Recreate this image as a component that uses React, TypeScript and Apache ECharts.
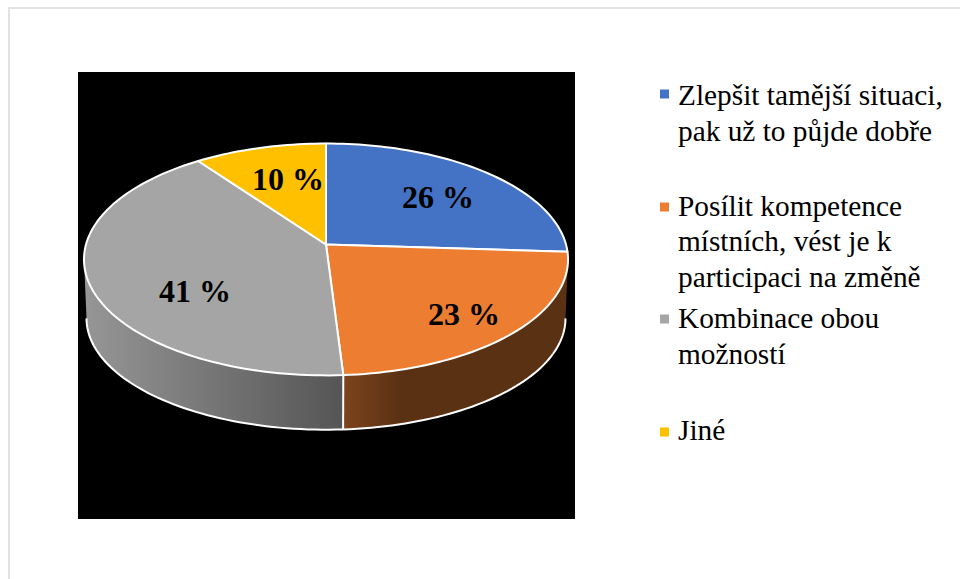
import React, { useEffect, useRef } from "react";
import * as echarts from "echarts";

const categories = [
  "Zlepšit tamější situaci,\npak už to půjde dobře",
  "Posílit kompetence\nmístních, vést je k\nparticipaci na změně",
  "Kombinace obou\nmožností",
  "Jiné",
];
const values = [26, 23, 41, 10];
const labels = ["26 %", "23 %", "41 %", "10 %"];
const colors = ["#4472C4", "#ED7D31", "#A5A5A5", "#FFC000"];
const wallColors: [string, string][] = [
  ["#2a4a80", "#223c68"],
  ["#7d441c", "#5b3114"],
  ["#969696", "#555555"],
  ["#a67d00", "#806000"],
];

// Layout of the tilted disc (perspective projection of a circle)
const CX = 326;
const P = 0.129;
const TOP = { cy: 244.5, a: 240, b: 114 };
const BOTTOM = { cy: 304, a: 237.5, b: 109.5 };
const LABEL_POS = [
  [438, 197],
  [464, 314],
  [195, 291],
  [288, 179],
];
const LEGEND_X = 678;
const LEGEND_MARK_X = 660;
const LEGEND_MARK_Y = [94, 207, 319, 432];
const LEGEND_TEXT_Y = [95, 205.5, 318, 430];
const LINE_H = 35.6;
const FONT = '"Liberation Serif", "Times New Roman", serif';

function project(deg: number, f: { cy: number; a: number; b: number }) {
  const t = (deg * Math.PI) / 180;
  const s = Math.sin(t);
  const c = Math.cos(t);
  const d = 1 + P * c;
  return [CX + (f.a * s) / d, f.cy - (f.b * c) / d];
}

function arc(from: number, to: number, f: typeof TOP) {
  const pts: number[][] = [];
  const n = Math.max(2, Math.ceil(Math.abs(to - from) / 1.5));
  for (let i = 0; i <= n; i++) pts.push(project(from + ((to - from) * i) / n, f));
  return pts;
}

const total = values.reduce((a, b) => a + b, 0);
const SIL = (Math.acos(-P) * 180) / Math.PI; // silhouette angle

function renderSlice(params: any, api: any) {
  const i = params.dataIndex;
  const before = values.slice(0, i).reduce((a, b) => a + b, 0);
  const start = (before / total) * 360;
  const end = ((before + api.value(0)) / total) * 360;
  const children: any[] = [];

  const wFrom = Math.max(start, SIL);
  const wTo = Math.min(end, 360 - SIL);
  if (wTo > wFrom) {
    const topArc = arc(wFrom, wTo, TOP);
    const lowArc = arc(wFrom, wTo, BOTTOM);
    children.push({
      type: "polygon",
      z2: 1,
      shape: { points: [...topArc, ...lowArc.slice().reverse()] },
      style: {
        fill: new echarts.graphic.LinearGradient(0, 0, 1, 0, [
          { offset: 0, color: wallColors[i][0] },
          { offset: i === 1 ? 0.25 : 1, color: wallColors[i][1] },
          { offset: 1, color: wallColors[i][1] },
        ]),
      },
    });
    children.push({
      type: "polyline",
      z2: 2,
      shape: { points: lowArc },
      style: { fill: "none", stroke: "#ffffff", lineWidth: 2 },
    });
    if (wFrom === start) {
      children.push({
        type: "polyline",
        z2: 2,
        shape: { points: [topArc[0], lowArc[0]] },
        style: { fill: "none", stroke: "#ffffff", lineWidth: 2 },
      });
    }
  }

  children.push({
    type: "polygon",
    z2: 5,
    shape: { points: [project(0, { ...TOP, a: 0, b: 0 }), ...arc(start, end, TOP)] },
    style: { fill: colors[i], stroke: "#ffffff", lineWidth: 2, lineJoin: "round" },
  });
  children.push({
    type: "text",
    z2: 10,
    style: {
      text: labels[i],
      x: LABEL_POS[i][0],
      y: LABEL_POS[i][1],
      fill: "#000000",
      font: `bold 32px ${FONT}`,
      align: "center",
      verticalAlign: "middle",
    },
  });
  return { type: "group", children };
}

export default function App() {
  const ref = useRef<HTMLDivElement>(null);
  useEffect(() => {
    const chart = echarts.init(ref.current!, undefined, { renderer: "svg" });
    const legendEls: any[] = [];
    categories.forEach((name, i) => {
      legendEls.push({
        type: "rect",
        shape: { x: LEGEND_MARK_X, y: LEGEND_MARK_Y[i] - 4.5, width: 9, height: 9 },
        style: { fill: colors[i] },
      });
      name.split("\n").forEach((line, k) => {
        legendEls.push({
          type: "text",
          style: {
            text: line,
            x: LEGEND_X,
            y: LEGEND_TEXT_Y[i] + k * LINE_H,
            fill: "#000000",
            font: `29.33px ${FONT}`,
            align: "left",
            verticalAlign: "middle",
          },
        });
      });
    });
    chart.setOption({
      animation: false,
      backgroundColor: "#ffffff",
      graphic: [
        { type: "rect", z: -10, shape: { x: 8, y: 7, width: 952, height: 2 }, style: { fill: "#e2e2e2" } },
        { type: "rect", z: -10, shape: { x: 8, y: 7, width: 2, height: 572 }, style: { fill: "#e2e2e2" } },
        { type: "rect", z: -10, shape: { x: 78, y: 72, width: 497, height: 447 }, style: { fill: "#000000" } },
        ...legendEls,
      ],
      series: [
        {
          type: "custom",
          coordinateSystem: "none",
          clip: false,
          z: 5,
          renderItem: renderSlice,
          data: values.map((v, i) => ({ name: categories[i], value: [v] })),
        },
      ],
    });
    return () => chart.dispose();
  }, []);
  return <div ref={ref} style={{ position: "fixed", left: 0, top: 0, width: 960, height: 579 }} />;
}
